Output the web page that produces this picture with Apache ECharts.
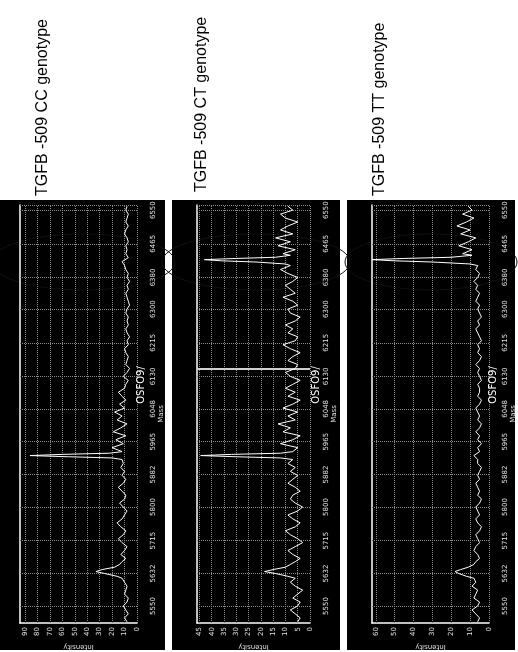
<!DOCTYPE html>
<html><head><meta charset="utf-8">
<script src="https://cdn.jsdelivr.net/npm/echarts@6/dist/echarts.min.js"></script>
<style>html,body{margin:0;padding:0;background:#fff}#c{width:518px;height:652px}</style>
</head><body><div id="c"></div>
<script>
const genotypes = ['TGFB -509 CC genotype', 'TGFB -509 CT genotype', 'TGFB -509 TT genotype'];
const plotTitle = 'OSFO9/';
const massTicks = [5550, 5632, 5715, 5800, 5882, 5965, 6048, 6130, 6215, 6300, 6380, 6465, 6550];
const intTicks1 = [0, 10, 20, 30, 40, 50, 60, 70, 80, 90];
const intTicks2 = [0, 5, 10, 15, 20, 25, 30, 35, 40, 45];
const intTicks3 = [0, 10, 20, 30, 40, 50, 60];
const markerMass2 = [6150];

const mass1 = [5510,5520,5530,5540,5550,5560,5570,5580,5590,5600,5610,5620,
 5625,5632,5637,5642,5648,5655,5662,
 5670,5680,5690,5700,5710,5720,5730,5740,5750,5760,5770,5780,5790,5800,5810,5820,5830,5840,5850,5860,5870,5880,5890,5900,5910,5920,
 5924,5927,5930,5933,5936,5940,
 5950,5960,5970,5980,5990,6000,6010,6020,6030,6040,6050,6060,6070,6080,6090,6100,
 6110,6120,6130,6140,6150,6160,6170,6180,6190,6200,6210,6220,6230,6240,6250,6260,6270,6280,6290,6300,6310,6320,6330,6340,6350,6360,6370,6380,6390,6400,6410,6420,6430,6440,6450,6460,6470,6480,6490,6500,6510,6520,6530,6540,6550,6560];
const int1 = [8,10,7,9,11,8,7,10,9,8,10,12,
 16,26,33,28,18,14,12,
 9,13,10,8,12,15,11,9,13,16,12,10,8,11,14,10,9,12,15,11,9,12,10,13,11,12,
 20,55,86,60,22,12,
 20,11,17,9,19,13,8,16,12,18,10,14,9,12,15,10,
 9,7,11,8,6,9,8,7,9,10,7,8,6,8,9,7,8,7,9,8,6,7,8,9,7,8,6,8,7,9,10,12,7,9,8,9,7,8,10,9,7,9,8,7,9,8];

const mass2 = [5510,5520,5530,5540,5550,5560,5570,5580,5590,5600,5610,5620,
 5625,5632,5637,5642,5648,5655,5662,
 5670,5680,5690,5700,5710,5720,5730,5740,5750,5760,5770,5780,5790,5800,5810,5820,5830,5840,5850,5860,5870,5880,5890,5900,5910,5920,
 5924,5927,5930,5933,5936,5940,
 5950,5960,5970,5980,5990,6000,6010,6020,6030,6040,6050,6060,6070,6080,6090,6100,
 6110,6120,6130,6140,6150,6160,6170,6180,6190,6200,6210,6220,6230,6240,6250,6260,6270,6280,6290,6300,6310,6320,6330,6340,6350,6360,6370,6380,6390,6400,6410,
 6414,6419,6422,6425,6428,6431,6436,
 6440,6450,6460,6470,6480,6490,6500,6510,6520,6530,6540,6550,6560];
const int2 = [5,4,6,8,5,4,7,5,3,6,8,6,
 9,14,18.5,15,10,8,6,
 4,7,9,6,3,5,8,10,6,4,7,9,5,3,6,8,7,4,6,9,7,5,8,6,9,7,
 12,30,44.5,32,12,7,
 5,12,7,4,11,8,13,6,9,5,11,7,4,9,6,10,
 7,4,8,10,6,5,9,7,4,8,11,6,5,9,7,10,6,4,8,9,5,7,11,6,8,10,7,5,9,12,8,
 10,22,36,43,30,14,8,
 11,6,13,8,14,7,12,9,5,10,12,7,9];

const mass3 = [5510,5520,5530,5540,5550,5560,5570,5580,5590,5600,5610,5620,
 5625,5632,5637,5642,5648,5655,5662,
 5670,5680,5690,5700,5710,5720,5730,5740,5750,5760,5770,5780,5790,5800,5810,5820,5830,5840,5850,5860,5870,5880,5890,5900,5910,
 5920,5930,
 5940,5950,5960,5970,5980,5990,6000,6010,6020,6030,6040,6050,6060,6070,6080,6090,6100,6110,6120,6130,6140,6150,6160,6170,6180,6190,6200,6210,6220,6230,6240,6250,6260,6270,6280,6290,6300,6310,6320,6330,6340,6350,6360,6370,6380,6390,6400,6410,
 6414,6419,6422,6425,6428,6431,6436,
 6440,6450,6460,6470,6480,6490,6500,6510,6520,6530,6540,6550,6560];
const int3 = [6,5,7,9,6,5,8,7,6,9,7,8,
 12,16,18,15,11,8,7,
 5,6,8,7,5,6,7,5,4,6,7,5,6,7,5,4,6,5,6,7,5,6,5,4,6,
 6,8,
 5,6,4,6,5,7,5,4,6,5,6,7,5,4,6,5,5,6,4,5,6,5,7,5,4,6,5,6,4,5,6,7,5,6,4,5,6,5,7,6,5,7,6,8,6,5,7,6,
 10,30,50,62,45,20,9,
 14,9,16,11,7,15,10,17,12,8,14,9,11];

const MASS_MIN = 5507, MASS_MAX = 6563;
const panels = [
  {left: 20, width: 117, mass: mass1, vals: int1, max: 94, ticks: intTicks1, bx: 0, bw: 165, tx: 141, gx: 43, gy: 196, ecx: 83, erx: 92, markers: []},
  {left: 197, width: 113, mass: mass2, vals: int2, max: 46, ticks: intTicks2, bx: 172, bw: 168, tx: 316, gx: 202, gy: 192, ecx: 256, erx: 94, markers: markerMass2},
  {left: 372, width: 117, mass: mass3, vals: int3, max: 62, ticks: intTicks3, bx: 347, bw: 168, tx: 493, gx: 380, gy: 196, ecx: 431, erx: 86, markers: []}
];

const grid = [], xAxis = [], yAxis = [], series = [], graphic = [];
const lab = {fontSize: 7, color: '#e0e0e0', fontFamily: 'DejaVu Sans'};
const dotted = {type: 'dotted', color: '#8a8a8a', width: 1};
panels.forEach((p, i) => {
  graphic.push({type: 'rect', shape: {x: p.bx, y: 200, width: p.bw, height: 450}, style: {fill: '#000'}, z: -10});
  grid.push({left: p.left, top: 205, width: p.width, height: 418, outerBoundsMode: 'none', containLabel: false});
  xAxis.push({type: 'value', gridIndex: i, inverse: true, min: 0, max: p.max, position: 'bottom',
    axisLine: {show: true, onZero: false, lineStyle: {color: '#fff', width: 1.5}},
    axisTick: {show: false},
    axisLabel: Object.assign({customValues: p.ticks, rotate: 90, margin: 4, formatter: v => String(v)}, lab),
    splitLine: {show: false},
    name: 'Intensity', nameLocation: 'middle', nameGap: 18, nameRotate: 180,
    nameTextStyle: lab});
  yAxis.push({type: 'value', gridIndex: i, min: MASS_MIN, max: MASS_MAX, position: 'right',
    axisLine: {show: false}, axisTick: {show: false},
    axisLabel: Object.assign({customValues: massTicks, rotate: 90, margin: 13, formatter: v => String(v)}, lab),
    splitLine: {show: false},
    name: 'Mass', nameLocation: 'middle', nameGap: 21, nameRotate: 90, nameTextStyle: lab});
  yAxis.push({type: 'value', gridIndex: i, min: MASS_MIN, max: MASS_MAX, position: 'left',
    axisLine: {show: true, lineStyle: {color: '#fff', width: 1.5}},
    axisTick: {show: false}, axisLabel: {show: false}, splitLine: {show: false}});
  const ml = [];
  massTicks.forEach(v => ml.push({yAxis: v}));
  ml.push({yAxis: MASS_MAX});
  p.ticks.forEach(v => ml.push({xAxis: v}));
  p.markers.forEach(v => ml.push({yAxis: v, lineStyle: {type: 'solid', color: '#cfcfcf', width: 2}}));
  series.push({type: 'line', xAxisIndex: i, yAxisIndex: 2 * i, showSymbol: false, smooth: false,
    data: p.mass.map((m, k) => [p.vals[k], m]),
    lineStyle: {color: '#fff', width: 1}, z: 3,
    markLine: {silent: true, symbol: ['none', 'none'], label: {show: false}, lineStyle: dotted, data: ml, z: 2}});
  graphic.push({type: 'ellipse', shape: {cx: p.ecx, cy: 262, rx: p.erx, ry: 28}, style: {stroke: '#111', fill: 'transparent', lineWidth: 1}, z: -5});
  graphic.push({type: 'text', x: p.tx, y: 385, rotation: Math.PI / 2,
    style: {text: plotTitle, fontSize: 10, fontFamily: 'DejaVu Sans', fill: '#fff', align: 'center', verticalAlign: 'middle', textAlign: 'center', textVerticalAlign: 'middle'}, z: 5});
  graphic.push({type: 'text', x: p.gx, y: p.gy, rotation: Math.PI / 2,
    style: {text: genotypes[i], fontSize: 16, fontFamily: 'Liberation Sans', fill: '#000', align: 'left', verticalAlign: 'middle', textAlign: 'left', textVerticalAlign: 'middle'}});
});

const chart = echarts.init(document.getElementById('c'), null, {renderer: 'canvas'});
chart.setOption({backgroundColor: '#fff', animation: false, grid, xAxis, yAxis, series, graphic});
</script></body></html>
